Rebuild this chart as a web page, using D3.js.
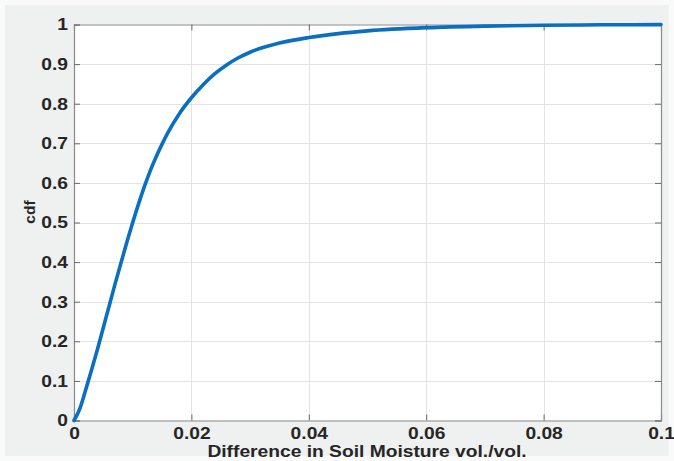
<!DOCTYPE html>
<html>
<head>
<meta charset="utf-8">
<script src="https://cdn.jsdelivr.net/npm/d3@7"></script>
<style>
html,body{margin:0;padding:0;background:#fafafa;}
svg{display:block;}
text{font-family:"Liberation Sans",Arial,Helvetica,sans-serif;font-weight:bold;fill:#262626;}
</style>
</head>
<body>
<script>
// Data
const diffValues = [0, 0.001, 0.002, 0.003, 0.004, 0.005, 0.006, 0.007, 0.008, 0.009, 0.010, 0.011, 0.012, 0.013, 0.014, 0.015, 0.016, 0.018, 0.020, 0.022, 0.024, 0.026, 0.028, 0.030, 0.035, 0.040, 0.045, 0.050, 0.060, 0.070, 0.080, 0.090, 0.100];
const cdfValues  = [0, 0.030, 0.078, 0.128, 0.180, 0.235, 0.290, 0.345, 0.398, 0.450, 0.500, 0.547, 0.591, 0.631, 0.666, 0.698, 0.727, 0.776, 0.815, 0.848, 0.876, 0.898, 0.916, 0.930, 0.953, 0.967, 0.977, 0.984, 0.992, 0.996, 0.998, 0.9992, 0.9997];
const xTicks = [0, 0.02, 0.04, 0.06, 0.08, 0.1];
const xTickLabels = ["0", "0.02", "0.04", "0.06", "0.08", "0.1"];
const yTicks = [0, 0.1, 0.2, 0.3, 0.4, 0.5, 0.6, 0.7, 0.8, 0.9, 1];
const yTickLabels = ["0", "0.1", "0.2", "0.3", "0.4", "0.5", "0.6", "0.7", "0.8", "0.9", "1"];
const xTitle = "Difference in Soil Moisture vol./vol.";
const yTitle = "cdf";

const W = 674, H = 461;
const m = {left: 74, right: 661, top: 24.5, bottom: 420.5};
const stretch = 1.13;

const svg = d3.select("body").append("svg").attr("width", W).attr("height", H);
svg.append("rect").attr("x", 5).attr("y", 5).attr("width", W - 10).attr("height", H - 10).attr("fill", "#eff0f0");

const x = d3.scaleLinear().domain([0, 0.1]).range([m.left, m.right]);
const y = d3.scaleLinear().domain([0, 1]).range([m.bottom, m.top]);

svg.append("rect").attr("x", m.left).attr("y", m.top)
  .attr("width", m.right - m.left).attr("height", m.bottom - m.top).attr("fill", "#ffffff");

// grid
const grid = svg.append("g").attr("stroke", "#e3e3e3").attr("stroke-width", 1);
grid.selectAll("line.gx").data(xTicks.slice(1, -1)).join("line")
  .attr("x1", d => Math.round(x(d)) + 0.5).attr("x2", d => Math.round(x(d)) + 0.5)
  .attr("y1", m.top).attr("y2", m.bottom);
grid.selectAll("line.gy").data(yTicks.slice(1, -1)).join("line")
  .attr("y1", d => Math.round(y(d)) + 0.5).attr("y2", d => Math.round(y(d)) + 0.5)
  .attr("x1", m.left).attr("x2", m.right);

// axes (box with inward ticks)
const tickLen = 6;
const axisColor = "#8a8a8a";
const xBottom = d3.axisBottom(x).tickValues(xTicks).tickSize(-tickLen).tickFormat((d, i) => xTickLabels[i]).tickPadding(6);
const xTop = d3.axisTop(x).tickValues(xTicks).tickSize(-tickLen).tickFormat("");
const yLeft = d3.axisLeft(y).tickValues(yTicks).tickSize(-tickLen).tickFormat((d, i) => yTickLabels[i]).tickPadding(6);
const yRight = d3.axisRight(y).tickValues(yTicks).tickSize(-tickLen).tickFormat("");

function style(g) {
  g.select(".domain").attr("stroke", axisColor).attr("stroke-width", 1.2).attr("fill", "none");
  g.selectAll(".tick line").attr("stroke", "#6a6a6a").attr("stroke-width", 1);
  g.selectAll(".tick text").attr("fill", "#262626")
    .style("font-family", "'Liberation Sans', Arial, sans-serif")
    .style("font-weight", "bold").style("font-size", "17px");
}
function widen(sel) {
  sel.each(function() {
    const w = this.getComputedTextLength();
    d3.select(this).attr("textLength", w * stretch).attr("lengthAdjust", "spacingAndGlyphs");
  });
}
svg.append("g").attr("transform", `translate(0,${m.bottom})`).call(xBottom).call(style)
  .call(g => g.selectAll(".tick text").call(widen));
svg.append("g").attr("transform", `translate(0,${m.top})`).call(xTop).call(style);
svg.append("g").attr("transform", `translate(${m.left},0)`).call(yLeft).call(style)
  .call(g => g.selectAll(".tick text").call(widen));
svg.append("g").attr("transform", `translate(${m.right},0)`).call(yRight).call(style);

// curve
const pts = diffValues.map((d, i) => [d, cdfValues[i]]);
svg.append("path").datum(pts)
  .attr("fill", "none").attr("stroke", "#0a6fc0").attr("stroke-width", 3.6)
  .attr("stroke-linecap", "round").attr("stroke-linejoin", "round")
  .attr("d", d3.line().x(d => x(d[0])).y(d => y(d[1])).curve(d3.curveMonotoneX));

// titles
svg.append("text").attr("x", 367).attr("y", 457)
  .attr("text-anchor", "middle").style("font-size", "17px").text(xTitle).call(widen);
svg.append("text").attr("transform", `translate(35,212) rotate(-90)`)
  .attr("text-anchor", "middle").style("font-size", "15.5px").text(yTitle);
</script>
</body>
</html>
